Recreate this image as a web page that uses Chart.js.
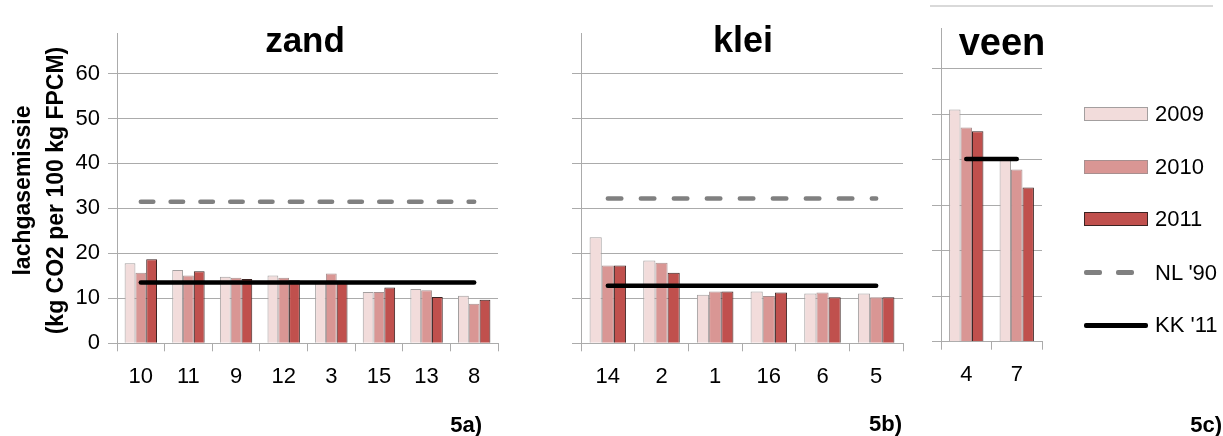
<!DOCTYPE html>
<html>
<head>
<meta charset="utf-8">
<title>lachgasemissie per bedrijf</title>
<script src="https://cdn.jsdelivr.net/npm/chart.js@4/dist/chart.umd.min.js"></script>
<style>
  html, body { margin: 0; padding: 0; background: #fff; }
  #wrap { position: relative; width: 1223px; height: 436px; overflow: hidden; background: #fff; }
  #wrap canvas { position: absolute; left: 0; top: 0; }
  .txt { position: absolute; white-space: nowrap; color: #000; font-family: 'Liberation Sans', Arial, sans-serif; }
</style>
</head>
<body>
<div id="wrap">
  <canvas id="zand" width="1223" height="436"></canvas>
  <canvas id="klei" width="1223" height="436"></canvas>
  <canvas id="veen" width="1223" height="436"></canvas>
</div>
<script>
// ---- data ----
const zandLabels = ['10', '11', '9', '12', '3', '15', '13', '8'];
const zand2009 = [17.8, 16.3, 14.8, 15.1, 13.9, 11.4, 12.1, 10.6];
const zand2010 = [15.7, 15.1, 14.6, 14.6, 15.5, 11.4, 11.8, 8.8];
const zand2011 = [18.7, 16.0, 14.3, 14.0, 13.9, 12.4, 10.3, 9.7];
const zandNL90 = 31.5;
const zandKK11 = 13.5;

const kleiLabels = ['14', '2', '1', '16', '6', '5'];
const klei2009 = [23.6, 18.4, 10.8, 11.5, 11.05, 11.05];
const klei2010 = [17.3, 17.9, 11.5, 10.5, 11.3, 10.25];
const klei2011 = [17.3, 15.7, 11.5, 11.3, 10.25, 10.25];
const kleiNL90 = 32.2;
const kleiKK11 = 12.8;

const veenLabels = ['4', '7'];
const veen2009 = [51.1, 40.0];
const veen2010 = [47.1, 37.9];
const veen2011 = [46.3, 33.9];
const veenKK11 = 40.2;

const yTicks = [0, 10, 20, 30, 40, 50, 60];
const yMax = 69;

// ---- styling ----
const FONT = "'Liberation Sans', Arial, sans-serif";
const GRID = '#ababab';
const C2009 = { fill: '#f2dcdb', line: '#a39f9f' };
const C2010 = { fill: '#d99694', line: '#a88f8f' };
const C2011 = { fill: '#c0504d', line: '#3b2322' };
const NL_COLOR = '#808080';
const KK_COLOR = '#000000';

Chart.defaults.font.family = FONT;
Chart.defaults.color = '#000';

function barSet(label, data, c) {
  return {
    type: 'bar', label, data,
    backgroundColor: c.fill, borderColor: c.line, borderWidth: 1,
    categoryPercentage: 0.68, barPercentage: 1.0, order: 2
  };
}
function refLine(label, labels, value, color, dash) {
  return {
    type: 'line', label, data: labels.map(() => value),
    borderColor: color, borderWidth: 4.5, borderDash: dash || [],
    borderCapStyle: 'round', pointRadius: 0, pointHoverRadius: 0,
    tension: 0, fill: false, order: 0
  };
}

// area: left/right/top/bottom of the plot area in page pixels
function makePanel(id, labels, datasets, area, showYLabels) {
  const yW = showYLabels ? area.left : 9;
  const xH = 60;
  return new Chart(document.getElementById(id), {
    type: 'bar',
    data: { labels, datasets },
    options: {
      responsive: false,
      animation: false,
      devicePixelRatio: 1,
      events: [],
      layout: {
        padding: {
          left: area.left - yW,
          right: 1223 - area.right,
          top: area.top,
          bottom: 436 - area.bottom - xH
        }
      },
      plugins: { legend: { display: false }, tooltip: { enabled: false }, title: { display: false } },
      scales: {
        x: {
          grid: { display: true, drawOnChartArea: false, drawTicks: true, tickLength: 8, color: GRID, offset: true },
          border: { color: GRID, width: 1 },
          ticks: { font: { size: 22 }, color: '#000', padding: 12, maxRotation: 0, autoSkip: false },
          afterFit: s => { s.height = xH; }
        },
        y: {
          min: 0, max: yMax,
          afterBuildTicks: s => { s.ticks = yTicks.map(v => ({ value: v })).concat([{ value: yMax }]); },
          ticks: {
            display: showYLabels, font: { size: 22 }, color: '#000', padding: 8,
            callback: v => (yTicks.includes(v) ? String(v) : '')
          },
          grid: {
            color: ctx => (ctx.tick && yTicks.includes(ctx.tick.value) ? GRID : 'rgba(0,0,0,0)'),
            tickLength: 9, lineWidth: 1, drawTicks: true
          },
          border: { color: GRID, width: 1 },
          afterFit: s => { s.width = yW; }
        }
      }
    }
  });
}

makePanel('zand', zandLabels, [
  refLine("NL '90", zandLabels, zandNL90, NL_COLOR, [12.5, 17.3]),
  refLine("KK '11", zandLabels, zandKK11, KK_COLOR),
  barSet('2009', zand2009, C2009),
  barSet('2010', zand2010, C2010),
  barSet('2011', zand2011, C2011)
], { left: 117, right: 498, top: 33, bottom: 343.3 }, true);

makePanel('klei', kleiLabels, [
  refLine("NL '90", kleiLabels, kleiNL90, NL_COLOR, [13.5, 19.5]),
  refLine("KK '11", kleiLabels, kleiKK11, KK_COLOR),
  barSet('2009', klei2009, C2009),
  barSet('2010', klei2010, C2010),
  barSet('2011', klei2011, C2011)
], { left: 581, right: 903, top: 33, bottom: 343.3 }, false);

makePanel('veen', veenLabels, [
  refLine("KK '11", veenLabels, veenKK11, KK_COLOR),
  barSet('2009', veen2009, C2009),
  barSet('2010', veen2010, C2010),
  barSet('2011', veen2011, C2011)
], { left: 941, right: 1042, top: 28, bottom: 341.7 }, false);

// ---- text and legend ----
const wrap = document.getElementById('wrap');
function putText(txt, x, baseline, size, bold, align) {
  const d = document.createElement('div');
  d.className = 'txt';
  d.textContent = txt;
  d.style.fontSize = size + 'px';
  d.style.fontWeight = bold ? 'bold' : 'normal';
  d.style.lineHeight = size + 'px';
  d.style.top = (baseline - size * 0.8465) + 'px';
  if (align === 'center') {
    d.style.left = (x - 300) + 'px'; d.style.width = '600px'; d.style.textAlign = 'center';
  } else if (align === 'right') {
    d.style.right = (1223 - x) + 'px'; d.style.textAlign = 'right';
  } else {
    d.style.left = x + 'px';
  }
  wrap.appendChild(d);
  return d;
}
function putBox(x, y, w, h, css) {
  const d = document.createElement('div');
  d.style.cssText = `position:absolute;left:${x}px;top:${y}px;width:${w}px;height:${h}px;box-sizing:border-box;${css}`;
  wrap.appendChild(d);
  return d;
}

// panel titles
putText('zand', 305, 52, 35, true, 'center');
putText('klei', 743, 52, 36, true, 'center');
putText('veen', 1002, 55, 38, true, 'center');

// panel captions
putText('5a)', 482, 433, 22, true, 'right');
putText('5b)', 902, 432, 22, true, 'right');
putText('5c)', 1222, 433, 22, true, 'right');

// vertical axis title (two lines)
function putVertical(txt, cx, cy, size) {
  const d = document.createElement('div');
  d.className = 'txt';
  d.textContent = txt;
  const w = 400;
  d.style.cssText += `font-size:${size}px;font-weight:bold;line-height:${size}px;width:${w}px;text-align:center;left:${cx - w / 2}px;top:${cy - size / 2}px;transform:rotate(-90deg);transform-origin:50% 50%;`;
  wrap.appendChild(d);
}
putVertical('lachgasemissie', 22, 190, 23);
putVertical('(kg CO2 per 100 kg FPCM)', 55, 190, 23);

// thin rule at the top right
putBox(930, 5, 283, 2, 'background:#d9d9d9;');

// legend
const legendX = 1084, legendTextX = 1155;
const legendBars = [['2009', C2009, 122], ['2010', C2010, 174.5], ['2011', C2011, 227]];
legendBars.forEach(([name, c, base]) => {
  putBox(legendX, base - 15, 64, 14, `background:${c.fill};border:1px solid ${c.line};`);
  putText(name, legendTextX, base, 22, false, 'left');
});
// NL '90 dashed sample
putBox(legendX, 270, 18, 4.5, `background:${NL_COLOR};border-radius:2px;`);
putBox(legendX + 32, 270, 18, 4.5, `background:${NL_COLOR};border-radius:2px;`);
putText("NL '90", legendTextX, 281, 22, false, 'left');
// KK '11 solid sample
putBox(legendX, 323, 64, 4.5, `background:${KK_COLOR};border-radius:2px;`);
putText("KK '11", legendTextX, 333, 22, false, 'left');
</script>
</body>
</html>
